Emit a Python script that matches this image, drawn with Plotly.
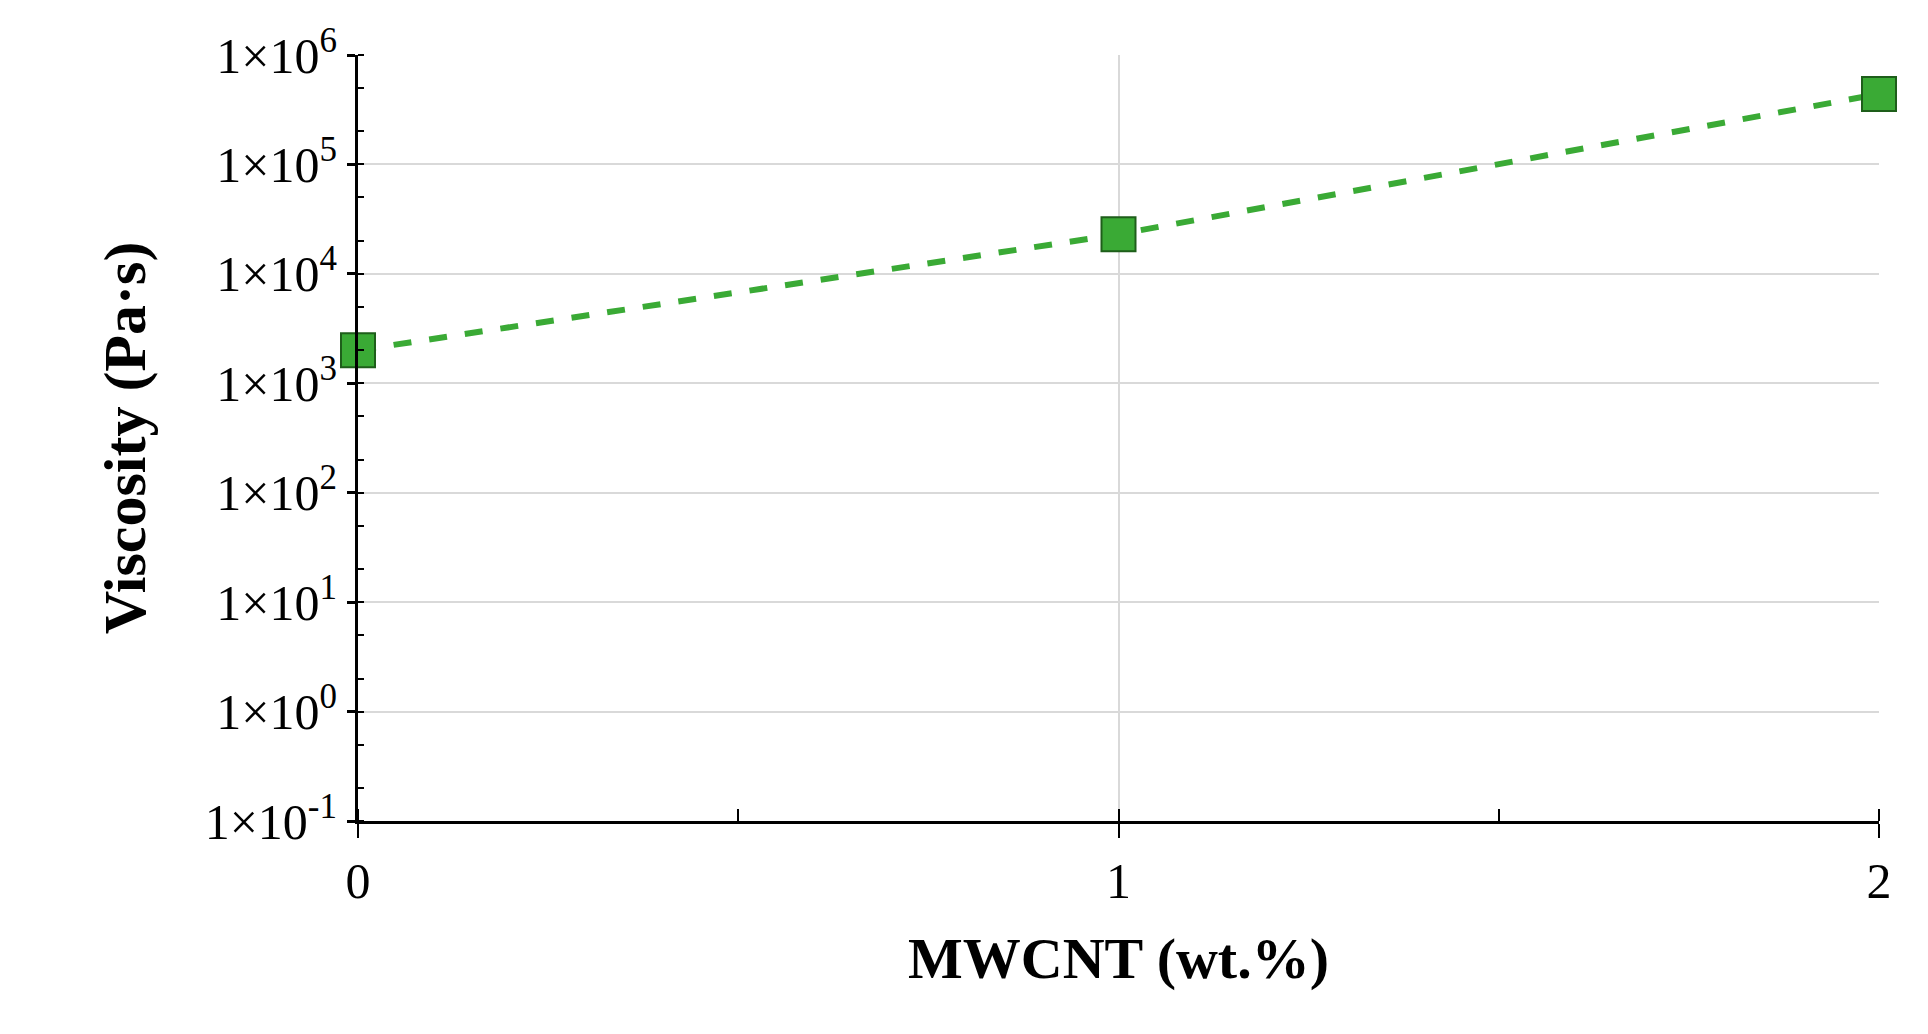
import plotly.graph_objects as go

mwcnt = [0, 1, 2]
viscosity = [2000, 23000, 440000]
y_tickvals = [1e-1, 1e0, 1e1, 1e2, 1e3, 1e4, 1e5, 1e6]
y_ticktext = ["1×10<sup>-1</sup>", "1×10<sup>0</sup>", "1×10<sup>1</sup>", "1×10<sup>2</sup>",
              "1×10<sup>3</sup>", "1×10<sup>4</sup>", "1×10<sup>5</sup>", "1×10<sup>6</sup>"]
x_tickvals = [0, 1, 2]

fig = go.Figure(go.Scatter(
    x=mwcnt, y=viscosity, mode="lines+markers",
    line=dict(color="#3aaa35", width=6, dash="dash"),
    marker=dict(symbol="square", size=34, color="#3aaa35", line=dict(color="#1e5e1a", width=2)),
    showlegend=False, cliponaxis=False))

font = "Liberation Serif, Times New Roman, serif"
fig.update_layout(
    width=1928, height=1034, paper_bgcolor="white", plot_bgcolor="white",
    margin=dict(l=350, r=57, t=42, b=221),
    font=dict(family=font, size=50, color="black"),
    xaxis=dict(range=[0, 2], tickvals=x_tickvals, ticks="outside", ticklen=14, tickwidth=2,
               tickcolor="black", showline=True, linecolor="black", linewidth=3,
               showgrid=True, gridcolor="#d9d9d9", gridwidth=2, zeroline=False,
               minor=dict(dtick=0.5, ticks="inside", ticklen=12, tickwidth=2, tickcolor="black", showgrid=False),
               title=dict(text="<b>MWCNT (wt.%)</b>", font=dict(size=58), standoff=30)),
    yaxis=dict(type="log", range=[-1, 6], tickvals=y_tickvals, ticktext=y_ticktext,
               ticks="outside", ticklen=8, tickwidth=3, tickcolor="black",
               showline=True, linecolor="black", linewidth=3, mirror=False,
               showgrid=True, gridcolor="#d9d9d9", gridwidth=2, zeroline=False,
               minor=dict(ticks="inside", ticklen=6, tickwidth=2, tickcolor="black", showgrid=False),
               title=dict(text="<b>Viscosity (Pa·s)</b>", font=dict(size=60), standoff=40)),
)
fig.write_html("out.html")
